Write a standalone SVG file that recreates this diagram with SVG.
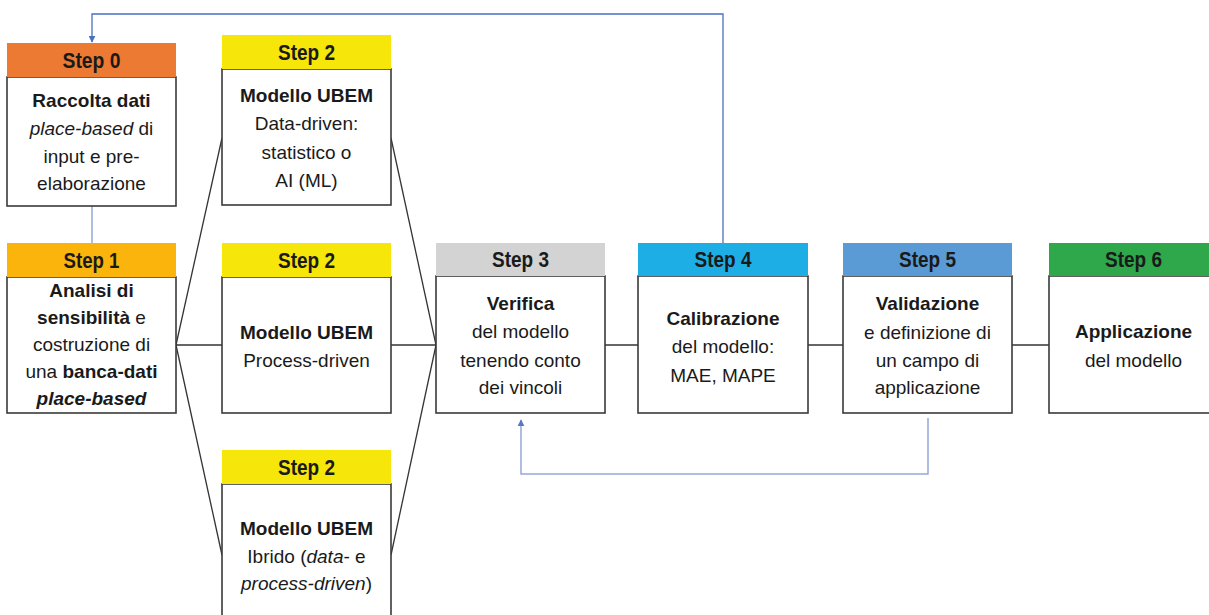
<svg xmlns="http://www.w3.org/2000/svg" width="1209" height="615" viewBox="0 0 1209 615">
<style>
.body{fill:#fff;stroke:#3a3a3a;stroke-width:1.6}
.hd{font-family:"Liberation Sans",Arial,sans-serif;font-weight:bold;font-size:22px;fill:#1a1a1a;text-anchor:middle}
.t{font-family:"Liberation Sans",Arial,sans-serif;font-size:19px;fill:#1a1a1a;text-anchor:middle}
.b{font-weight:bold}
.i{font-style:italic}
.ln{stroke:#333;stroke-width:1.3;fill:none}
.fb{stroke:#4a70c0;stroke-width:1.3;fill:none}
.fb2{stroke:#95a8da;stroke-width:1.5;fill:none}
</style>
<defs>
<marker id="ah" viewBox="0 0 10 10" refX="9" refY="5" markerWidth="7" markerHeight="7" orient="auto-start-reverse" markerUnits="userSpaceOnUse">
<path d="M0,0 L10,5 L0,10 z" fill="#4a70c0"/>
</marker>
<marker id="ah2" viewBox="0 0 10 10" refX="9" refY="5" markerWidth="7" markerHeight="7" orient="auto-start-reverse" markerUnits="userSpaceOnUse">
<path d="M0,0 L10,5 L0,10 z" fill="#5a78c0"/>
</marker>
</defs>
<rect width="1209" height="615" fill="#fff"/>
<g id="connectors">
<line class="fb2" x1="92" y1="206" x2="92" y2="243"/>
<polyline class="fb" points="723,243 723,14 92,14 92,42" marker-end="url(#ah)"/>
<polyline class="fb2" points="928,418 928,474 521,474 521,420" marker-end="url(#ah2)"/>
<line class="ln" x1="176" y1="345" x2="222" y2="138"/>
<line class="ln" x1="176" y1="345" x2="222" y2="345"/>
<line class="ln" x1="176" y1="345" x2="222" y2="555"/>
<line class="ln" x1="391" y1="138" x2="436" y2="345"/>
<line class="ln" x1="391" y1="345" x2="436" y2="345"/>
<line class="ln" x1="391" y1="555" x2="436" y2="345"/>
<line class="ln" x1="605" y1="345" x2="638" y2="345"/>
<line class="ln" x1="808" y1="345" x2="843" y2="345"/>
<line class="ln" x1="1012" y1="345" x2="1049" y2="345"/>
</g>
<g id="step0">
<rect class="body" x="7" y="77" width="169" height="129"/>
<rect x="7" y="43" width="169" height="34" fill="#ec7a32"/>
<text class="hd" x="91.5" y="68" textLength="58" lengthAdjust="spacingAndGlyphs">Step 0</text>
<text class="t" x="91.5" y="107"><tspan class="b">Raccolta dati</tspan></text>
<text class="t" x="91.5" y="135"><tspan class="i">place-based</tspan> di</text>
<text class="t" x="91.5" y="163">input e pre-</text>
<text class="t" x="91.5" y="190">elaborazione</text>
</g>
<g id="step1">
<rect class="body" x="7" y="277" width="169" height="136"/>
<rect x="7" y="243" width="169" height="34" fill="#fbb40c"/>
<text class="hd" x="91.5" y="268" textLength="56" lengthAdjust="spacingAndGlyphs">Step 1</text>
<text class="t b" x="91.5" y="297">Analisi di</text>
<text class="t" x="91.5" y="324"><tspan class="b">sensibilità</tspan> e</text>
<text class="t" x="91.5" y="351">costruzione di</text>
<text class="t" x="91.5" y="378">una <tspan class="b">banca-dati</tspan></text>
<text class="t b i" x="91.5" y="405">place-based</text>
</g>
<g id="step2a">
<rect class="body" x="222" y="69" width="169" height="136"/>
<rect x="222" y="35" width="169" height="34" fill="#f7e60a"/>
<text class="hd" x="306.5" y="60" textLength="57" lengthAdjust="spacingAndGlyphs">Step 2</text>
<text class="t b" x="306.5" y="102">Modello UBEM</text>
<text class="t" x="306.5" y="130">Data-driven:</text>
<text class="t" x="306.5" y="159">statistico o</text>
<text class="t" x="306.5" y="187">AI (ML)</text>
</g>
<g id="step2b">
<rect class="body" x="222" y="277" width="169" height="136"/>
<rect x="222" y="243" width="169" height="34" fill="#f7e60a"/>
<text class="hd" x="306.5" y="268" textLength="57" lengthAdjust="spacingAndGlyphs">Step 2</text>
<text class="t b" x="306.5" y="339">Modello UBEM</text>
<text class="t" x="306.5" y="367">Process-driven</text>
</g>
<g id="step2c">
<rect class="body" x="222" y="484" width="169" height="140"/>
<rect x="222" y="450" width="169" height="34" fill="#f7e60a"/>
<text class="hd" x="306.5" y="475" textLength="57" lengthAdjust="spacingAndGlyphs">Step 2</text>
<text class="t b" x="306.5" y="535">Modello UBEM</text>
<text class="t" x="306.5" y="563">Ibrido (<tspan class="i">data</tspan>- e</text>
<text class="t" x="306.5" y="590"><tspan class="i">process-driven</tspan>)</text>
</g>
<g id="step3">
<rect class="body" x="436" y="276" width="169" height="137"/>
<rect x="436" y="243" width="169" height="33" fill="#d3d3d3"/>
<text class="hd" x="520.5" y="267" textLength="57" lengthAdjust="spacingAndGlyphs">Step 3</text>
<text class="t b" x="520.5" y="310">Verifica</text>
<text class="t" x="520.5" y="338">del modello</text>
<text class="t" x="520.5" y="367">tenendo conto</text>
<text class="t" x="520.5" y="394">dei vincoli</text>
</g>
<g id="step4">
<rect class="body" x="638" y="276" width="170" height="137"/>
<rect x="638" y="243" width="170" height="33" fill="#1eaee6"/>
<text class="hd" x="723" y="267" textLength="57" lengthAdjust="spacingAndGlyphs">Step 4</text>
<text class="t b" x="723" y="325">Calibrazione</text>
<text class="t" x="723" y="353">del modello:</text>
<text class="t" x="723" y="382">MAE, MAPE</text>
</g>
<g id="step5">
<rect class="body" x="843" y="276" width="169" height="137"/>
<rect x="843" y="243" width="169" height="33" fill="#5b9bd5"/>
<text class="hd" x="927.5" y="267" textLength="57" lengthAdjust="spacingAndGlyphs">Step 5</text>
<text class="t b" x="927.5" y="310">Validazione</text>
<text class="t" x="927.5" y="339">e definizione di</text>
<text class="t" x="927.5" y="367">un campo di</text>
<text class="t" x="927.5" y="394">applicazione</text>
</g>
<g id="step6">
<rect class="body" x="1049" y="276" width="169" height="137"/>
<rect x="1049" y="243" width="169" height="33" fill="#2ea84a"/>
<text class="hd" x="1133.5" y="267" textLength="57" lengthAdjust="spacingAndGlyphs">Step 6</text>
<text class="t b" x="1133.5" y="338">Applicazione</text>
<text class="t" x="1133.5" y="367">del modello</text>
</g>
</svg>
